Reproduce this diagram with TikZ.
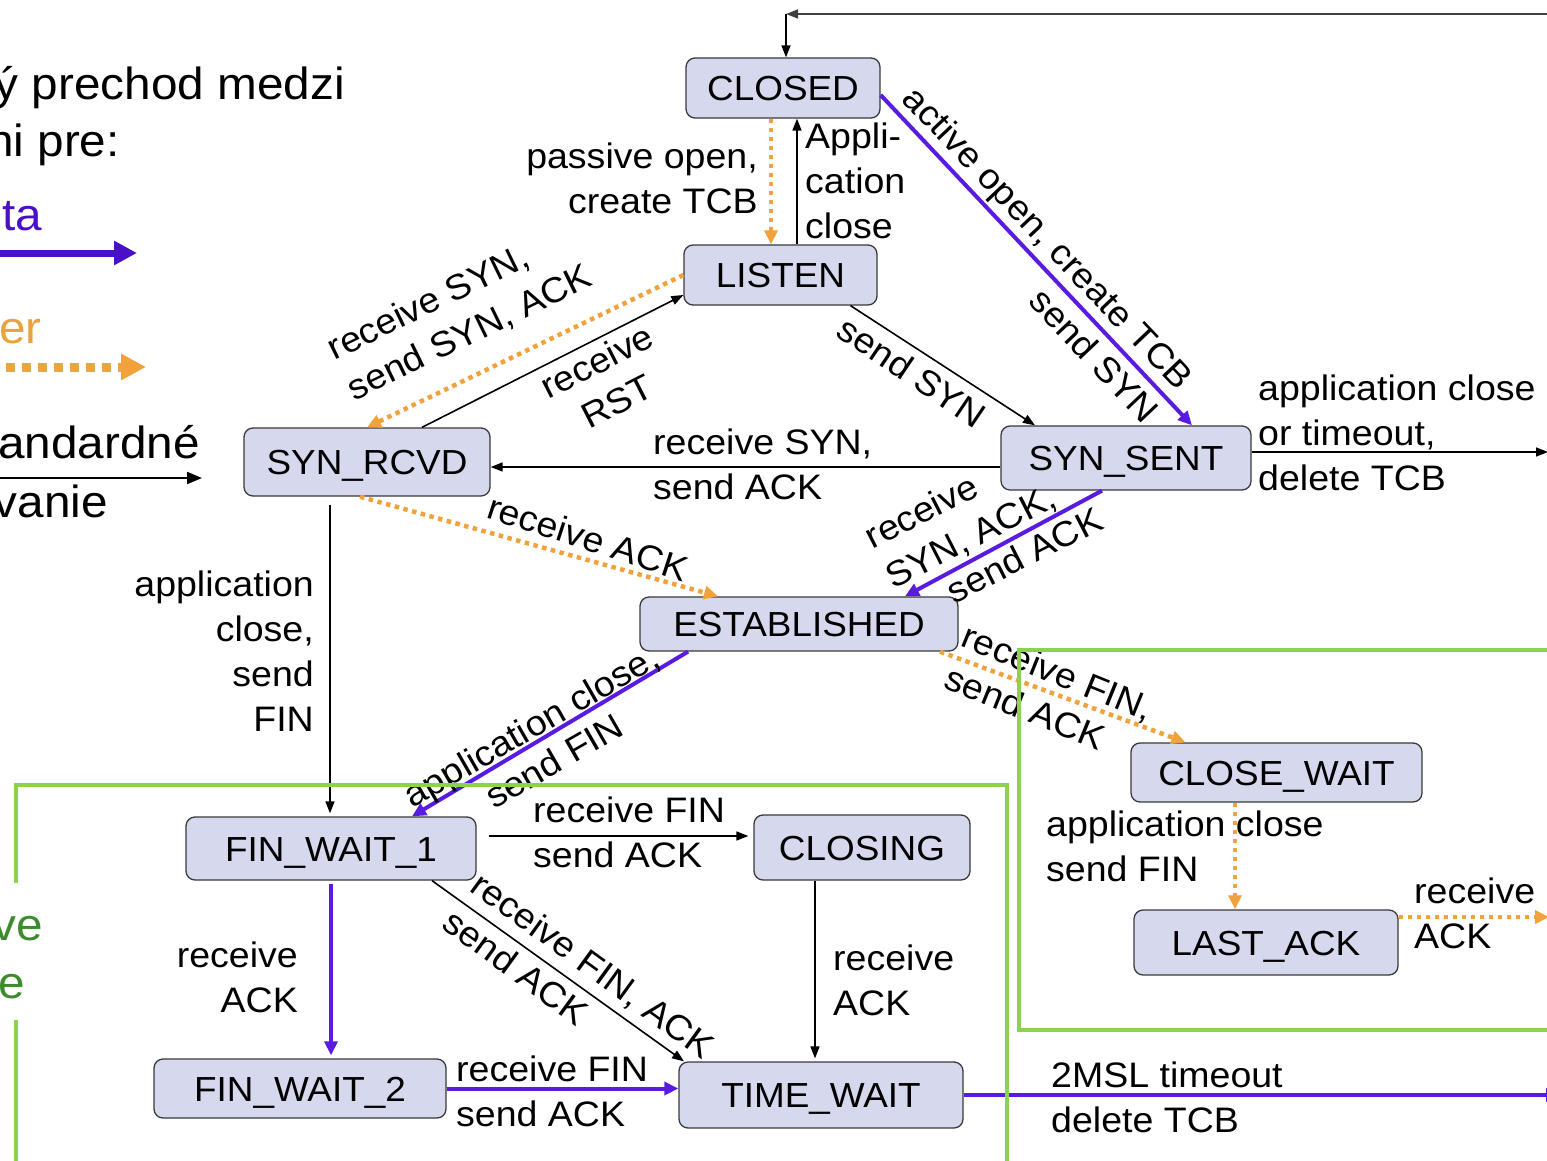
\documentclass[tikz,border=0pt]{standalone}
\usepackage{fontspec}
\setmainfont{Liberation Sans}[FakeStretch=1.06]
\usetikzlibrary{arrows.meta,calc}

\definecolor{statefill}{HTML}{D6D8EE}
\definecolor{stateborder}{HTML}{3A3A3A}
\definecolor{purp}{HTML}{5A1BE0}
\definecolor{purptext}{HTML}{4A10C8}
\definecolor{orng}{HTML}{F2A23A}
\definecolor{orngtext}{HTML}{E8A33C}
\definecolor{grnline}{HTML}{8DD150}
\definecolor{grntext}{HTML}{3C8C2C}
\definecolor{topgray}{HTML}{404040}

\newcommand\statefont{\fontsize{34.8}{40}\selectfont}
\newcommand\lblfont{\fontsize{35.4}{45}\selectfont}
\newcommand\headfont{\fontsize{45}{54}\selectfont}

\tikzset{
  stbox/.style 2 args={draw=stateborder, fill=statefill, rounded corners=9pt,
    line width=1.3pt, inner sep=0pt, font=\statefont,
    text height=25pt, text depth=0pt,
    minimum width=#1, minimum height=#2},
  lbl/.style={inner sep=0pt, font=\lblfont,
    execute at begin node=\strut, execute at end node=\strut},
  head/.style={inner sep=0pt, font=\headfont},
  blk/.style={line width=1.6pt, draw=black, -{Triangle[length=12pt,width=9pt]}},
  pur/.style={line width=4pt, draw=purp, -{Triangle[length=14pt,width=13pt]}},
  org/.style={line width=4.5pt, draw=orng, dash pattern=on 4.5pt off 4.5pt,
    -{Triangle[length=14pt,width=13pt]}},
  grn/.style={line width=4pt, draw=grnline},
}

\begin{document}
\begin{tikzpicture}[x=1pt,y=-1pt]
\useasboundingbox (0,0) rectangle (1547,1161);
\fill[white] (0,0) rectangle (1547,1161);
\clip (0,0) rectangle (1547,1161);

% legend on the left
\node[head, anchor=base east] (h1) at (345,100) {ý prechod medzi};
\node[head, anchor=base east] (h2) at (120,157) {ni pre:};
\node[head, anchor=base east, text=purptext] (h3) at (42,230) {ta};
\coordinate (lp0) at (-10,253); \coordinate (lp1) at (137,253);
\draw[line width=7pt, draw=purptext, -{Triangle[length=23pt,width=23pt]}] (lp0) -- (lp1);
\node[head, anchor=base east, text=orngtext] (h4) at (42,343) {er};
\coordinate (lo0) at (-10,367); \coordinate (lo1) at (146,367);
\draw[line width=9pt, draw=orng, dash pattern=on 9pt off 7pt,
  -{Triangle[length=25pt,width=25pt]}] (lo0) -- (lo1);
\node[head, anchor=base east] (h5) at (200,458) {andardné};
\coordinate (lb0) at (-10,478); \coordinate (lb1) at (202,478);
\draw[line width=2.2pt, -{Triangle[length=15pt,width=12pt]}] (lb0) -- (lb1);
\node[head, anchor=base east] (h6) at (108,517) {vanie};
\node[head, anchor=base east, text=grntext] (h7) at (43,940) {ve};
\node[head, anchor=base east, text=grntext] (h8) at (25,998) {e};

% states
\node[stbox={194pt}{60pt}] (closed)  at (783,88)     {CLOSED};
\node[stbox={193pt}{60pt}] (listen)  at (780.5,275)  {LISTEN};
\node[stbox={246pt}{68pt}] (synr)    at (367,462)    {SYN\_RCVD};
\node[stbox={250pt}{64pt}] (syns)    at (1126,458)   {SYN\_SENT};
\node[stbox={318pt}{54pt}] (est)     at (799,624)    {ESTABLISHED};
\node[stbox={291pt}{59pt}] (cwait)   at (1276.5,772.5) {CLOSE\_WAIT};
\node[stbox={264pt}{65pt}] (lack)    at (1266,942.5) {LAST\_ACK};
\node[stbox={290pt}{63pt}] (fw1)     at (331,848.5)  {FIN\_WAIT\_1};
\node[stbox={216pt}{65pt}] (closing) at (862,847.5)  {CLOSING};
\node[stbox={292pt}{59pt}] (fw2)     at (300,1088.5) {FIN\_WAIT\_2};
\node[stbox={284pt}{66pt}] (twait)   at (821,1095)   {TIME\_WAIT};

% loose ends running off to the right
\coordinate (rtop)   at (1560,14);
\coordinate (corner) at (786,14);
\coordinate (rsyn)   at (1548,452);
\coordinate (rlast)  at (1549,917);
\coordinate (rtime)  at (1560,1095);

% transitions
\draw[blk, draw=topgray] (rtop) -- (corner);
\draw[blk] (corner) -- ([xshift=3pt]closed.north);
\draw[org] ([xshift=-12pt]closed.south) -- ([xshift=-12pt]closed.south |- listen.north);
\draw[blk] ([xshift=14pt]closed.south |- listen.north) -- ([xshift=14pt]closed.south);
\draw[pur] ([yshift=-7pt]closed.east) -- ([xshift=66pt]syns.north);
\draw[org] (listen.west) -- (synr.north);
\draw[blk] ([xshift=55pt]synr.north) -- ([yshift=-20pt]listen.west);
\draw[blk] ([xshift=70pt]listen.south) -- ([xshift=-91pt]syns.north);
\draw[blk] ([yshift=-9pt]syns.west) -- ([yshift=-9pt]syns.west -| synr.east);
\draw[org] ([xshift=-7pt]synr.south) -- ([xshift=-81pt]est.north);
\draw[pur] ([xshift=-24pt]syns.south) -- ([xshift=106pt]est.north);
\draw[org] ([xshift=141pt]est.south) -- ([xshift=-91pt]cwait.north);
\draw[pur] ([xshift=-111pt]est.south) -- ([xshift=81pt]fw1.north);
\draw[blk, shorten <=8pt, shorten >=3pt] ([xshift=-37pt]synr.south) -- ([xshift=-37pt]synr.south |- fw1.north);
\draw[blk, shorten <=12pt, shorten >=5pt] ([yshift=12.5pt]fw1.east) -- ([yshift=12.5pt]fw1.east -| closing.west);
\draw[pur, shorten <=3pt, shorten >=3pt] (fw1.south) -- (fw1.south |- fw2.north);
\draw[blk] ([xshift=101pt]fw1.south) -- ([xshift=-137pt]twait.north);
\draw[blk, shorten >=3pt] ([xshift=-47pt]closing.south) -- ([xshift=-47pt]closing.south |- twait.north);
\draw[pur] (fw2.east) -- (fw2.east -| twait.west);
\draw[pur] (twait.east) -- (rtime);
\draw[org] ([xshift=-41.5pt]cwait.south) -- ([xshift=-41.5pt]cwait.south |- lack.north);
\draw[org] ([yshift=25.5pt]lack.east) -- (rlast);
\draw[blk] ([yshift=6pt]syns.east) -- (rsyn);

% transition labels
\node[lbl, anchor=north east, align=right] (lpassive) at (758,142.5) {passive open,\\create TCB};
\node[lbl, anchor=north west, align=left] (lappli) at (805,122.5) {Appli-\\cation\\close};
\node[lbl, rotate=26, align=left] (lrsyn) at (462,317) {receive SYN,\\send SYN, ACK};
\node[lbl, rotate=27, align=center] (lrst) at (610,387) {receive\\RST};
\node[lbl, rotate=-34] (lsendsyn) at (910,375) {send SYN};
\node[lbl, rotate=-46.5] (lactive) at (1046,240) {active open, create TCB};
\node[lbl, rotate=-46.5] (lsendsyn2) at (1092,358) {send SYN};
\node[lbl, anchor=north west, align=left] (lrsynack) at (653,428.5) {receive SYN,\\send ACK};
\node[lbl, anchor=north west, align=left] (lappclose) at (1258,374.5) {application close\\or timeout,\\delete TCB};
\node[lbl, rotate=-18] (lrack) at (587,541) {receive ACK};
\node[lbl, rotate=27, align=left] (lrsa) at (963,522) {receive\\SYN, ACK,};
\node[lbl, rotate=27] (lsa) at (1026,558) {send ACK};
\node[lbl, rotate=-22, align=left] (lrfin) at (1047,699) {receive FIN,\\send ACK};
\node[lbl, rotate=30] (lac) at (533,729) {application close,};
\node[lbl, rotate=30] (lsf) at (556,764) {send FIN};
\node[lbl, anchor=north east, align=right] (lacsf) at (314,570.5) {application\\close,\\send\\FIN};
\node[lbl, anchor=north west, align=left] (lrfsa) at (533,796.5) {receive FIN\\send ACK};
\node[lbl, anchor=north east, align=right] (lra1) at (298,941.5) {receive\\ACK};
\node[lbl, rotate=-36] (lrfa) at (591,968) {receive FIN, ACK};
\node[lbl, rotate=-36] (lsa2) at (514,970) {send ACK};
\node[lbl, anchor=north west, align=left] (lra2) at (833,944.5) {receive\\ACK};
\node[lbl, anchor=north west, align=left] (lrfsa2) at (456,1055.5) {receive FIN\\send ACK};
\node[lbl, anchor=north west, align=left] (l2msl) at (1051,1061.5) {2MSL timeout\\delete TCB};
\node[lbl, anchor=north west, align=left] (lacsf2) at (1046,810.5) {application close\\send FIN};
\node[lbl, anchor=north west, align=left] (lrack3) at (1414,877.5) {receive\\ACK};

% green grouping frames
\draw[grn] (16,1170) -- (16,1020);
\draw[grn] (16,883) -- (16,785) -- (1007,785) -- (1007,1170);
\draw[grn] (1560,650) -- (1019,650) -- (1019,1030) -- (1560,1030);
\end{tikzpicture}
\end{document}
